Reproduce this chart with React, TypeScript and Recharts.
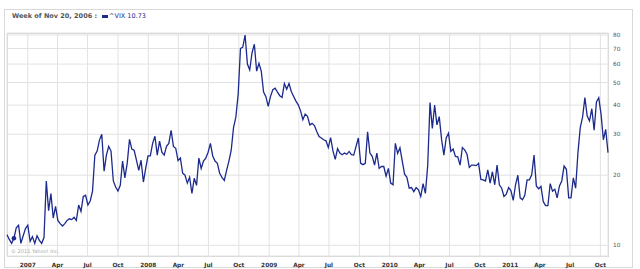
import { CartesianGrid, Line, LineChart, ReferenceDot, XAxis, YAxis } from 'recharts'

const WEEK_MS = 7 * 24 * 3600 * 1000
// first weekly point: week of Oct 30, 2006
const firstWeek = Date.UTC(2006, 9, 30)

// weekly close of ^VIX, week of Oct 30 2006 .. week of Oct 24 2011
const vixClose = [
  11.1, 10.6, 10.2, 10.73, 11.9, 12.2, 10.2, 11.0, 11.8, 12.2,
  10.4, 10.9, 10.2, 11.0, 10.5, 10.2, 10.8, 18.9, 14.1, 16.7,
  13.1, 14.7, 12.8, 12.4, 12.1, 12.4, 12.8, 13.0, 12.9, 13.2,
  12.8, 14.9, 14.0, 16.2, 16.4, 14.9, 15.5, 17.1, 24.4, 25.4,
  28.3, 30.0, 20.8, 24.4, 26.6, 25.4, 18.9, 17.8, 17.1, 18.1,
  23.0, 19.5, 22.5, 28.5, 25.9, 25.6, 23.2, 21.0, 23.2, 18.7,
  21.4, 24.2, 24.2, 27.4, 29.4, 24.4, 28.0, 25.1, 24.4, 26.6,
  27.4, 31.2, 26.6, 26.1, 23.1, 23.7, 20.4, 20.0, 18.5, 19.6,
  16.7, 19.4, 18.1, 23.7, 21.4, 23.0, 23.7, 25.1, 27.4, 24.2,
  23.0, 22.5, 20.4, 19.6, 19.0, 21.0, 23.0, 25.6, 32.0, 35.5,
  44.5, 70.0, 71.0, 80.0, 60.0, 56.6, 67.0, 73.0, 56.0, 60.5,
  56.0, 45.5, 43.5, 39.5, 43.6, 46.6, 47.3, 45.5, 43.9, 43.2,
  49.5, 46.8, 49.5, 45.8, 43.6, 41.6, 40.1, 37.8, 34.6, 36.6,
  35.8, 32.9, 33.4, 32.7, 30.8, 29.3, 28.9, 28.4, 28.1, 26.3,
  29.0, 25.5, 23.4, 26.0, 24.9, 24.5, 24.9, 24.6, 25.3, 24.5,
  24.4, 26.6, 28.9, 22.5, 22.2, 22.5, 30.7, 24.9, 24.1, 22.1,
  24.9, 21.4, 21.8, 21.8, 19.8, 21.4, 18.5, 18.2, 27.4, 24.8,
  26.2, 23.0, 20.2, 19.6, 17.6, 17.7, 17.0, 17.7, 17.3, 16.2,
  18.4, 16.7, 22.0, 41.0, 31.8, 40.0, 32.9, 35.7, 28.5, 24.4,
  28.9, 30.3, 25.3, 25.9, 24.1, 24.0, 22.1, 26.3, 25.7, 24.6,
  21.6, 22.1, 22.1, 22.0, 22.5, 19.2, 19.1, 18.9, 21.1, 18.5,
  20.7, 18.2, 22.1, 18.2, 17.6, 16.2, 16.6, 17.7, 17.2, 15.6,
  18.2, 20.0, 16.0, 15.7, 16.4, 19.1, 19.1, 20.1, 24.4, 18.0,
  17.5, 17.9, 15.4, 14.8, 14.8, 18.4, 17.1, 17.4, 16.0, 18.0,
  18.9, 21.9, 21.2, 16.0, 16.0, 19.5, 17.6, 25.0, 32.0, 35.5,
  43.1, 35.9, 34.2, 38.6, 31.2, 41.3, 43.0, 36.5, 28.4, 31.5, 25.0,
]

const tickDates = [
  '2007-01-01', '2007-04-01', '2007-07-01', '2007-10-01',
  '2008-01-01', '2008-04-01', '2008-07-01', '2008-10-01',
  '2009-01-01', '2009-04-01', '2009-07-01', '2009-10-01',
  '2010-01-01', '2010-04-01', '2010-07-01', '2010-10-01',
  '2011-01-01', '2011-04-01', '2011-07-01', '2011-10-01',
]
const tickLabels = [
  '2007', 'Apr', 'Jul', 'Oct',
  '2008', 'Apr', 'Jul', 'Oct',
  '2009', 'Apr', 'Jul', 'Oct',
  '2010', 'Apr', 'Jul', 'Oct',
  '2011', 'Apr', 'Jul', 'Oct',
]
const yTicks = [10, 20, 30, 40, 50, 60, 70, 80]

const hoverWeek = 3
const hoverLabel = 'Week of Nov 20, 2006 :'
const seriesName = '^VIX'

const NAVY = '#1b2a8c'
const FONT = "'DejaVu Sans', Verdana, sans-serif"

const data = vixClose.map((v, i) => ({ t: firstWeek + i * WEEK_MS, vix: v }))
const xTicks = tickDates.map((d) => Date.parse(d))

// eslint-disable-next-line @typescript-eslint/no-explicit-any
function XTick({ x, y, payload }: any) {
  const i = xTicks.indexOf(payload.value)
  return (
    <text x={x} y={y} dy={9} textAnchor='middle' fontSize={5.8} fontWeight='bold' fill='#333' fontFamily={FONT}>
      {tickLabels[i]}
    </text>
  )
}

// eslint-disable-next-line @typescript-eslint/no-explicit-any
function YTick({ x, y, payload }: any) {
  return (
    <text x={x + 3} y={y} dy={2} textAnchor='start' fontSize={5.8} fill='#555' fontFamily={FONT}>
      {payload.value}
    </text>
  )
}

export default function App() {
  return (
    <div style={{ position: 'absolute', left: 0, top: 0, width: 640, height: 269, background: '#fff', fontFamily: FONT }}>
      {/* outer frame */}
      <div style={{ position: 'absolute', left: 4, top: 9, width: 629, height: 259, border: '1px solid #d9d9d9', boxSizing: 'border-box' }} />
      {/* plot frame */}
      <div style={{ position: 'absolute', left: 7, top: 33, width: 602, height: 224, border: '1px solid #d4d4d4', boxSizing: 'border-box' }} />

      <div style={{ position: 'absolute', left: 0, top: 0 }}>
        <LineChart width={640} height={269} data={data} margin={{ top: 33, right: 0, bottom: 0, left: 7 }}>
          <CartesianGrid stroke='#e2e2e2' />
          <XAxis
            dataKey='t'
            type='number'
            domain={['dataMin', 'dataMax']}
            ticks={xTicks}
            interval={0}
            height={13}
            axisLine={false}
            tickLine={false}
            tickSize={0}
            tick={XTick}
          />
          <YAxis
            orientation='right'
            scale='log'
            type='number'
            domain={[9, 81.6]}
            allowDataOverflow
            ticks={yTicks}
            interval={0}
            width={32}
            axisLine={false}
            tickLine={false}
            tickSize={0}
            tick={YTick}
          />
          <Line type='linear' dataKey='vix' stroke={NAVY} strokeWidth={1.3} dot={false} isAnimationActive={false} />
          <ReferenceDot x={data[hoverWeek].t} y={data[hoverWeek].vix} r={2.3} fill={NAVY} stroke='none' />
        </LineChart>
      </div>

      {/* header */}
      <div style={{ position: 'absolute', left: 12, top: 12, fontSize: 6.5, lineHeight: '8px', color: '#555', fontWeight: 'bold' }}>
        {hoverLabel}
      </div>
      <div style={{ position: 'absolute', left: 102, top: 15, width: 6, height: 3, background: NAVY }} />
      <div style={{ position: 'absolute', left: 109, top: 12, fontSize: 6.5, lineHeight: '8px', color: NAVY }}>
        {seriesName} {vixClose[hoverWeek].toFixed(2)}
      </div>
      <div style={{ position: 'absolute', left: 11, top: 248, fontSize: 5, lineHeight: '7px', color: '#aaa' }}>
        © 2011 Yahoo! Inc.
      </div>
    </div>
  )
}
